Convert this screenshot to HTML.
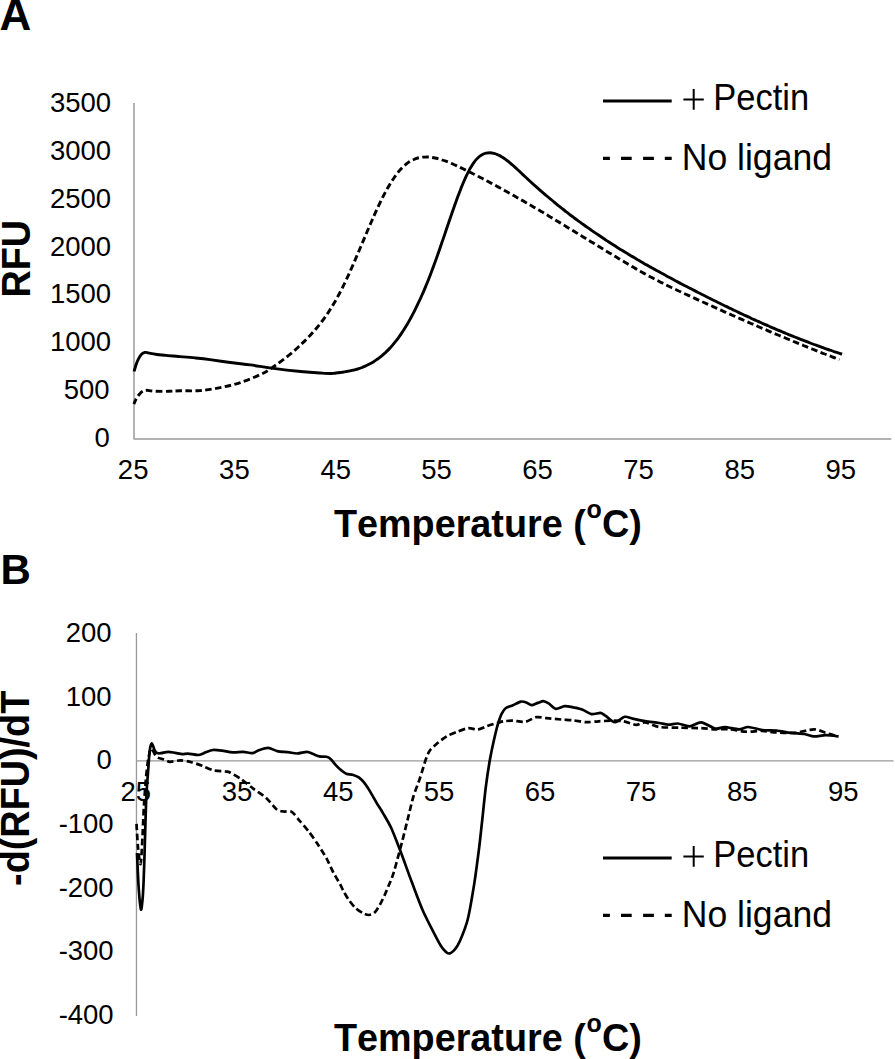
<!DOCTYPE html><html><head><meta charset="utf-8"><style>html,body{margin:0;padding:0;background:#fff;}svg{display:block;}text{font-family:"Liberation Sans",sans-serif;fill:#000;font-kerning:none;font-feature-settings:"kern" 0;}</style></head><body>
<svg width="895" height="1059" viewBox="0 0 895 1059">
<rect width="895" height="1059" fill="#fff"/>
<text x="-0.60" y="29.80" font-size="44.00" font-weight="bold">A</text>
<text transform="translate(0.39,583.50) scale(1.0000,1.0310)" font-size="42.00" font-weight="bold">B</text>
<path d="M134.00,103.00 V438.90 H891.30" fill="none" stroke="#999999" stroke-width="1.50" stroke-linejoin="round"/>
<path d="M136.45,632.90 V1015.90 M136.45,760.95 H893.50" fill="none" stroke="#999999" stroke-width="1.30" stroke-linejoin="round"/>
<text transform="translate(49.90,112.16) scale(1.0000,1.0200)" font-size="27.50">3500</text>
<text transform="translate(49.90,159.96) scale(1.0000,1.0200)" font-size="27.50">3000</text>
<text transform="translate(49.90,207.76) scale(1.0000,1.0200)" font-size="27.50">2500</text>
<text transform="translate(49.90,255.56) scale(1.0000,1.0200)" font-size="27.50">2000</text>
<text transform="translate(49.90,303.36) scale(1.0000,1.0200)" font-size="27.50">1500</text>
<text transform="translate(49.90,351.16) scale(1.0000,1.0200)" font-size="27.50">1000</text>
<text transform="translate(63.79,398.96) scale(1.0000,1.0200)" font-size="27.50">500</text>
<text transform="translate(94.38,446.76) scale(1.0000,1.0200)" font-size="27.50">0</text>
<text transform="translate(117.85,479.06) scale(1.0000,1.0200)" font-size="27.50">25</text>
<text transform="translate(219.10,479.06) scale(1.0000,1.0200)" font-size="27.50">35</text>
<text transform="translate(320.39,478.91) scale(1.0000,1.0200)" font-size="27.50">45</text>
<text transform="translate(421.23,478.91) scale(1.0000,1.0200)" font-size="27.50">55</text>
<text transform="translate(522.16,479.06) scale(1.0000,1.0200)" font-size="27.50">65</text>
<text transform="translate(623.24,478.91) scale(1.0000,1.0200)" font-size="27.50">75</text>
<text transform="translate(724.43,479.06) scale(1.0000,1.0200)" font-size="27.50">85</text>
<text transform="translate(825.46,479.06) scale(1.0000,1.0200)" font-size="27.50">95</text>
<text transform="translate(65.79,642.06) scale(1.0000,1.0200)" font-size="27.50">200</text>
<text transform="translate(65.79,705.71) scale(1.0000,1.0200)" font-size="27.50">100</text>
<text transform="translate(96.38,769.36) scale(1.0000,1.0200)" font-size="27.50">0</text>
<text transform="translate(58.63,833.01) scale(1.0000,1.0200)" font-size="27.50">-100</text>
<text transform="translate(58.63,896.66) scale(1.0000,1.0200)" font-size="27.50">-200</text>
<text transform="translate(58.63,960.31) scale(1.0000,1.0200)" font-size="27.50">-300</text>
<text transform="translate(58.63,1023.96) scale(1.0000,1.0200)" font-size="27.50">-400</text>
<text transform="translate(120.49,800.96) scale(1.0000,1.0200)" font-size="27.50">25</text>
<text transform="translate(221.71,800.96) scale(1.0000,1.0200)" font-size="27.50">35</text>
<text transform="translate(322.97,800.81) scale(1.0000,1.0200)" font-size="27.50">45</text>
<text transform="translate(423.78,800.81) scale(1.0000,1.0200)" font-size="27.50">55</text>
<text transform="translate(524.68,800.96) scale(1.0000,1.0200)" font-size="27.50">65</text>
<text transform="translate(625.73,800.81) scale(1.0000,1.0200)" font-size="27.50">75</text>
<text transform="translate(726.89,800.96) scale(1.0000,1.0200)" font-size="27.50">85</text>
<text transform="translate(827.89,800.96) scale(1.0000,1.0200)" font-size="27.50">95</text>
<text transform="translate(333.88,536.80) scale(1.0000,1.0450)" font-size="37.80" font-weight="bold">Temperature (</text>
<text x="586.42" y="517.65" font-size="25.00" font-weight="bold">o</text>
<text transform="translate(602.05,536.80) scale(1.0000,1.0450)" font-size="37.80" font-weight="bold">C)</text>
<text transform="translate(333.88,1051.20) scale(1.0000,1.0450)" font-size="37.80" font-weight="bold">Temperature (</text>
<text x="586.42" y="1032.05" font-size="25.00" font-weight="bold">o</text>
<text transform="translate(602.05,1051.20) scale(1.0000,1.0450)" font-size="37.80" font-weight="bold">C)</text>
<text transform="translate(29.50,297.53) rotate(-90) scale(1,1.0550)" font-size="37.80" font-weight="bold">RFU</text>
<text transform="translate(29.40,885.88) rotate(-90) scale(1,1.0550)" font-size="37.80" font-weight="bold">-d(RFU)/dT</text>
<g fill="none" stroke="#000" stroke-linejoin="round" stroke-linecap="butt">
<path d="M134.1,371.5 C134.3,370.6 135.0,368.0 135.6,366.2 C136.2,364.4 136.8,362.4 137.7,360.5 C138.6,358.6 139.7,356.2 140.9,354.9 C142.1,353.5 143.4,352.7 144.8,352.4 C146.2,352.1 147.1,352.8 149.1,353.1 C151.1,353.5 154.1,354.1 156.9,354.5 C159.7,354.9 162.2,355.0 166.1,355.4 C169.9,355.8 175.2,356.2 180.0,356.6 C184.8,357.0 190.0,357.4 195.0,357.9 C200.0,358.4 204.1,358.8 210.0,359.6 C215.9,360.4 223.6,361.6 230.3,362.5 C237.0,363.4 243.5,364.0 250.4,364.9 C257.3,365.8 263.1,367.0 271.5,368.1 C279.9,369.2 292.6,370.7 300.7,371.5 C308.8,372.3 315.1,372.7 320.0,373.0 C324.9,373.3 327.7,373.5 330.0,373.5 C332.3,373.6 332.7,373.3 334.0,373.2 C335.3,373.0 336.7,372.9 338.0,372.7 C339.3,372.6 340.7,372.4 342.0,372.3 C343.3,372.1 344.7,371.9 346.0,371.6 C347.3,371.4 348.7,371.2 350.0,370.9 C351.3,370.6 352.7,370.3 354.0,370.0 C355.3,369.6 356.7,369.3 358.0,368.8 C359.3,368.4 360.7,368.0 362.0,367.5 C363.3,366.9 364.7,366.4 366.0,365.8 C367.3,365.2 368.7,364.5 370.0,363.8 C371.3,363.1 372.7,362.3 374.0,361.5 C375.3,360.6 376.7,359.7 378.0,358.8 C379.3,357.8 380.7,356.8 382.0,355.7 C383.3,354.5 384.7,353.3 386.0,352.1 C387.3,350.8 388.7,349.5 390.0,348.0 C391.3,346.6 392.7,345.1 394.0,343.4 C395.3,341.8 396.7,340.1 398.0,338.3 C399.3,336.5 400.7,334.6 402.0,332.6 C403.3,330.6 404.7,328.5 406.0,326.3 C407.3,324.1 408.7,321.8 410.0,319.4 C411.3,317.0 412.7,314.5 414.0,311.9 C415.3,309.2 416.7,306.5 418.0,303.7 C419.4,300.9 420.7,298.0 422.0,295.0 C423.4,292.0 424.7,288.8 426.0,285.6 C427.4,282.4 428.7,279.1 430.0,275.7 C431.4,272.2 432.7,268.7 434.0,265.1 C435.4,261.4 436.7,257.7 438.0,253.9 C439.4,250.1 440.7,246.2 442.0,242.3 C443.4,238.4 444.7,234.4 446.0,230.5 C447.4,226.6 448.7,222.6 450.0,218.7 C451.4,214.8 452.7,211.0 454.0,207.2 C455.4,203.4 456.7,199.7 458.0,196.1 C459.4,192.6 460.7,189.1 462.0,185.8 C463.4,182.6 464.7,179.4 466.0,176.6 C467.4,173.7 468.7,171.0 470.0,168.6 C471.4,166.3 472.7,164.1 474.0,162.3 C475.4,160.5 476.7,159.0 478.0,157.8 C479.4,156.5 480.7,155.6 482.0,154.8 C483.4,154.0 484.7,153.5 486.0,153.2 C487.4,152.9 488.7,152.8 490.0,152.8 C491.4,152.8 492.7,153.1 494.0,153.4 C495.4,153.8 496.7,154.3 498.0,154.9 C499.4,155.4 500.7,156.2 502.0,157.0 C503.4,157.8 504.7,158.7 506.0,159.7 C507.4,160.7 508.7,161.7 510.0,162.8 C511.4,163.9 512.7,165.1 514.0,166.3 C515.4,167.5 516.7,168.8 518.0,170.0 C519.4,171.2 520.7,172.5 522.0,173.8 C523.4,175.0 524.7,176.3 526.0,177.5 C527.4,178.8 528.7,180.0 530.0,181.2 C531.4,182.5 532.7,183.7 534.0,184.9 C535.4,186.1 536.7,187.2 538.0,188.4 C539.4,189.6 540.7,190.8 542.0,191.9 C543.4,193.1 544.7,194.2 546.0,195.4 C547.4,196.5 548.7,197.6 550.0,198.7 C551.4,199.8 552.7,200.9 554.0,202.0 C555.4,203.1 556.7,204.2 558.0,205.3 C559.4,206.4 560.7,207.4 562.0,208.5 C563.4,209.5 564.7,210.6 566.0,211.6 C567.4,212.6 568.7,213.7 570.0,214.7 C571.4,215.7 572.7,216.7 574.0,217.7 C575.4,218.7 576.7,219.7 578.0,220.7 C579.4,221.7 580.7,222.6 582.0,223.6 C583.4,224.6 584.7,225.5 586.0,226.5 C587.4,227.4 588.7,228.4 590.1,229.3 C591.4,230.2 592.7,231.2 594.1,232.1 C595.4,233.0 596.7,233.9 598.1,234.8 C599.4,235.7 600.7,236.6 602.1,237.5 C603.4,238.4 604.7,239.3 606.1,240.2 C607.4,241.0 608.7,241.9 610.1,242.8 C611.4,243.6 612.7,244.5 614.1,245.3 C615.4,246.2 616.7,247.0 618.1,247.9 C619.4,248.7 620.7,249.5 622.1,250.3 C623.4,251.2 624.7,252.0 626.1,252.8 C627.4,253.6 628.7,254.4 630.1,255.2 C631.4,256.0 632.7,256.8 634.1,257.6 C635.4,258.4 636.7,259.2 638.1,260.0 C639.4,260.7 640.7,261.5 642.1,262.3 C643.4,263.1 644.7,263.8 646.1,264.6 C647.4,265.3 648.7,266.1 650.1,266.9 C651.4,267.6 652.7,268.4 654.1,269.1 C655.4,269.8 656.7,270.6 658.1,271.3 C659.4,272.1 660.7,272.8 662.1,273.5 C663.4,274.2 664.7,275.0 666.1,275.7 C667.4,276.4 668.7,277.1 670.1,277.8 C671.4,278.6 672.7,279.3 674.1,280.0 C675.4,280.7 676.7,281.4 678.1,282.1 C679.4,282.8 680.7,283.5 682.1,284.2 C683.4,284.9 684.7,285.6 686.1,286.3 C687.4,287.0 688.7,287.7 690.1,288.3 C691.4,289.0 692.7,289.7 694.1,290.4 C695.4,291.1 696.7,291.8 698.1,292.5 C699.4,293.1 700.7,293.8 702.1,294.5 C703.4,295.2 704.7,295.8 706.1,296.5 C707.4,297.2 708.7,297.9 710.1,298.5 C711.4,299.2 712.7,299.9 714.1,300.5 C715.4,301.2 716.7,301.8 718.1,302.5 C719.4,303.1 720.7,303.8 722.1,304.5 C723.4,305.1 724.7,305.8 726.1,306.4 C727.4,307.0 728.7,307.7 730.1,308.3 C731.4,309.0 732.7,309.6 734.1,310.3 C735.4,310.9 736.7,311.5 738.1,312.1 C739.4,312.8 740.7,313.4 742.1,314.0 C743.4,314.7 744.7,315.3 746.1,315.9 C747.4,316.5 748.7,317.1 750.1,317.7 C751.4,318.4 752.7,319.0 754.1,319.6 C755.4,320.2 756.8,320.8 758.1,321.4 C759.4,322.0 760.8,322.6 762.1,323.2 C763.4,323.8 764.8,324.3 766.1,324.9 C767.4,325.5 768.8,326.1 770.1,326.7 C771.4,327.3 772.8,327.8 774.1,328.4 C775.4,329.0 776.8,329.6 778.1,330.1 C779.4,330.7 780.8,331.2 782.1,331.8 C783.4,332.4 784.8,332.9 786.1,333.5 C787.4,334.0 788.8,334.6 790.1,335.1 C791.4,335.7 792.8,336.2 794.1,336.7 C795.4,337.3 796.8,337.8 798.1,338.3 C799.4,338.8 800.8,339.4 802.1,339.9 C803.4,340.4 804.8,340.9 806.1,341.4 C807.4,341.9 808.8,342.5 810.1,343.0 C811.4,343.5 812.8,344.0 814.1,344.5 C815.4,345.0 816.8,345.4 818.1,345.9 C819.4,346.4 820.8,346.9 822.1,347.4 C823.4,347.9 824.8,348.3 826.1,348.8 C827.4,349.3 828.8,349.7 830.1,350.2 C831.4,350.6 832.8,351.1 834.1,351.6 C835.4,352.0 836.8,352.4 838.1,352.9 C839.4,353.3 841.4,354.0 842.1,354.2" stroke-width="2.90"/>
<path d="M133.9,404.1 C134.3,403.2 135.4,400.4 136.3,398.8 C137.2,397.2 138.1,395.8 139.2,394.5 C140.3,393.2 141.4,392.0 142.7,391.3 C144.0,390.6 145.2,390.3 147.0,390.3 C148.8,390.3 149.7,390.9 153.3,391.1 C157.0,391.3 164.5,391.4 168.9,391.3 C173.3,391.2 174.8,390.9 180.0,390.8 C185.2,390.7 193.4,391.1 200.1,390.6 C206.8,390.1 213.5,388.9 220.2,387.6 C226.9,386.3 233.6,384.8 240.3,382.6 C247.0,380.4 255.3,376.9 260.5,374.5 C265.7,372.1 266.6,371.5 271.5,368.1 C276.4,364.8 285.0,358.4 290.0,354.4 C295.0,350.4 298.7,346.6 301.3,344.2 C303.9,341.9 304.0,341.7 305.3,340.4 C306.7,339.1 308.0,337.7 309.3,336.3 C310.7,334.9 312.0,333.4 313.3,331.9 C314.7,330.4 316.0,328.9 317.4,327.2 C318.7,325.6 320.0,323.9 321.4,322.1 C322.7,320.4 324.1,318.6 325.4,316.7 C326.7,314.7 328.1,312.8 329.4,310.7 C330.8,308.6 332.1,306.5 333.4,304.2 C334.8,302.0 336.1,299.7 337.4,297.2 C338.8,294.8 340.1,292.3 341.5,289.6 C342.8,287.0 344.1,284.3 345.5,281.5 C346.8,278.6 348.2,275.7 349.5,272.8 C350.8,269.8 352.2,266.8 353.5,263.7 C354.9,260.6 356.2,257.5 357.5,254.4 C358.9,251.2 360.2,248.0 361.5,244.9 C362.9,241.7 364.2,238.5 365.6,235.4 C366.9,232.2 368.2,229.0 369.6,225.9 C370.9,222.8 372.3,219.7 373.6,216.7 C374.9,213.7 376.3,210.7 377.6,207.8 C379.0,205.0 380.3,202.1 381.6,199.4 C383.0,196.7 384.3,194.1 385.6,191.7 C387.0,189.2 388.3,186.8 389.7,184.6 C391.0,182.4 392.3,180.2 393.7,178.3 C395.0,176.3 396.4,174.5 397.7,172.8 C399.0,171.1 400.4,169.6 401.7,168.2 C403.0,166.8 404.4,165.6 405.7,164.5 C407.1,163.4 408.4,162.4 409.7,161.6 C411.1,160.7 412.4,160.1 413.8,159.5 C415.1,158.9 416.4,158.4 417.8,158.0 C419.1,157.7 420.5,157.4 421.8,157.2 C423.1,157.0 424.5,157.0 425.8,157.0 C427.1,156.9 428.5,157.0 429.8,157.1 C431.2,157.3 432.5,157.5 433.8,157.7 C435.2,157.9 436.5,158.3 437.9,158.6 C439.2,158.9 440.5,159.3 441.9,159.8 C443.2,160.2 444.6,160.7 445.9,161.2 C447.2,161.7 448.6,162.2 449.9,162.8 C451.2,163.3 452.6,163.9 453.9,164.5 C455.3,165.1 456.6,165.8 457.9,166.4 C459.3,167.0 460.6,167.7 462.0,168.3 C463.3,168.9 464.6,169.6 466.0,170.3 C467.3,170.9 468.7,171.6 470.0,172.2 C471.3,172.9 472.7,173.6 474.0,174.2 C475.3,174.9 476.7,175.6 478.0,176.3 C479.4,177.0 480.7,177.7 482.0,178.3 C483.4,179.0 484.7,179.7 486.1,180.4 C487.4,181.1 488.7,181.9 490.1,182.6 C491.4,183.3 492.7,184.0 494.1,184.7 C495.4,185.4 496.8,186.2 498.1,186.9 C499.4,187.6 500.8,188.3 502.1,189.1 C503.5,189.8 504.8,190.6 506.1,191.3 C507.5,192.0 508.8,192.8 510.2,193.5 C511.5,194.3 512.8,195.0 514.2,195.8 C515.5,196.6 516.8,197.3 518.2,198.1 C519.5,198.8 520.9,199.6 522.2,200.4 C523.5,201.1 524.9,201.9 526.2,202.7 C527.6,203.5 528.9,204.3 530.2,205.0 C531.6,205.8 532.9,206.6 534.3,207.4 C535.6,208.2 536.9,209.0 538.3,209.8 C539.6,210.5 540.9,211.3 542.3,212.1 C543.6,212.9 545.0,213.7 546.3,214.5 C547.6,215.3 549.0,216.1 550.3,216.9 C551.7,217.7 553.0,218.5 554.3,219.3 C555.7,220.2 557.0,221.0 558.4,221.8 C559.7,222.6 561.0,223.4 562.4,224.2 C563.7,225.0 565.0,225.8 566.4,226.7 C567.7,227.5 569.1,228.3 570.4,229.1 C571.7,229.9 573.1,230.7 574.4,231.5 C575.8,232.4 577.1,233.2 578.4,234.0 C579.8,234.8 581.1,235.6 582.4,236.5 C583.8,237.3 585.1,238.1 586.5,238.9 C587.8,239.7 589.1,240.6 590.5,241.4 C591.8,242.2 593.2,243.0 594.5,243.8 C595.8,244.7 597.2,245.5 598.5,246.3 C599.9,247.1 601.2,247.9 602.5,248.7 C603.9,249.6 605.2,250.4 606.5,251.2 C607.9,252.0 609.2,252.8 610.6,253.6 C611.9,254.4 613.2,255.3 614.6,256.1 C615.9,256.9 617.3,257.7 618.6,258.5 C619.9,259.3 621.3,260.1 622.6,260.9 C624.0,261.7 625.3,262.5 626.6,263.3 C628.0,264.1 629.3,264.9 630.6,265.6 C632.0,266.4 633.3,267.2 634.7,268.0 C636.0,268.8 637.3,269.5 638.7,270.3 C640.0,271.1 641.4,271.8 642.7,272.6 C644.0,273.3 645.4,274.1 646.7,274.8 C648.1,275.5 649.4,276.3 650.7,277.0 C652.1,277.7 653.4,278.4 654.7,279.1 C656.1,279.8 657.4,280.5 658.8,281.2 C660.1,281.9 661.4,282.6 662.8,283.2 C664.1,283.9 665.5,284.6 666.8,285.2 C668.1,285.9 669.5,286.5 670.8,287.2 C672.1,287.8 673.5,288.5 674.8,289.1 C676.2,289.7 677.5,290.4 678.8,291.0 C680.2,291.6 681.5,292.2 682.9,292.9 C684.2,293.5 685.5,294.1 686.9,294.7 C688.2,295.3 689.6,295.9 690.9,296.5 C692.2,297.2 693.6,297.8 694.9,298.4 C696.2,299.0 697.6,299.6 698.9,300.2 C700.3,300.8 701.6,301.4 702.9,302.0 C704.3,302.6 705.6,303.2 707.0,303.9 C708.3,304.5 709.6,305.1 711.0,305.7 C712.3,306.3 713.7,306.9 715.0,307.5 C716.3,308.1 717.7,308.7 719.0,309.3 C720.3,309.9 721.7,310.5 723.0,311.1 C724.4,311.7 725.7,312.3 727.0,312.9 C728.4,313.5 729.7,314.1 731.1,314.7 C732.4,315.3 733.7,315.9 735.1,316.4 C736.4,317.0 737.8,317.6 739.1,318.2 C740.4,318.8 741.8,319.4 743.1,320.0 C744.4,320.6 745.8,321.2 747.1,321.7 C748.5,322.3 749.8,322.9 751.1,323.5 C752.5,324.1 753.8,324.7 755.2,325.2 C756.5,325.8 757.8,326.4 759.2,327.0 C760.5,327.6 761.8,328.1 763.2,328.7 C764.5,329.3 765.9,329.8 767.2,330.4 C768.5,331.0 769.9,331.6 771.2,332.1 C772.6,332.7 773.9,333.3 775.2,333.8 C776.6,334.4 777.9,335.0 779.3,335.5 C780.6,336.1 781.9,336.7 783.3,337.2 C784.6,337.8 785.9,338.3 787.3,338.9 C788.6,339.4 790.0,340.0 791.3,340.5 C792.6,341.1 794.0,341.7 795.3,342.2 C796.7,342.8 798.0,343.3 799.3,343.8 C800.7,344.4 802.0,344.9 803.4,345.5 C804.7,346.0 806.0,346.6 807.4,347.1 C808.7,347.6 810.0,348.2 811.4,348.7 C812.7,349.3 814.1,349.8 815.4,350.3 C816.7,350.8 818.1,351.4 819.4,351.9 C820.8,352.4 822.1,353.0 823.4,353.5 C824.8,354.0 826.1,354.5 827.5,355.0 C828.8,355.6 830.1,356.1 831.5,356.6 C832.8,357.1 834.1,357.6 835.5,358.1 C836.8,358.7 838.8,359.4 839.5,359.7" stroke-width="2.90" stroke-dasharray="6.5 3.4" stroke-dashoffset="0.7"/>
<path d="M137.0,853.0 C137.2,857.3 138.0,877.5 138.5,885.0 C139.0,892.5 140.4,907.3 140.9,909.3 C141.4,911.3 142.1,904.0 142.5,900.0 C142.9,896.0 143.4,886.6 143.7,879.3 C144.0,872.0 144.5,856.0 144.8,845.3 C145.1,834.6 145.8,808.4 146.2,798.9 C146.6,789.4 147.4,780.3 147.9,774.0 C148.4,767.7 149.1,755.4 149.6,751.3 C150.1,747.2 151.1,743.5 151.8,743.4 C152.5,743.3 153.9,748.9 154.6,750.2 C155.3,751.5 156.1,752.6 157.0,753.0 C157.9,753.4 159.6,753.4 161.1,753.2 C162.6,753.0 166.3,751.8 168.2,751.8 C170.1,751.8 173.5,752.6 175.4,752.9 C177.3,753.2 180.8,754.0 182.5,754.1 C184.2,754.2 185.8,753.5 187.9,753.6 C190.0,753.7 196.2,755.2 198.6,755.0 C201.0,754.8 203.9,753.0 205.8,752.3 C207.7,751.6 210.8,750.2 212.9,750.0 C215.0,749.8 219.3,750.3 221.9,750.6 C224.5,750.9 229.7,752.1 232.6,752.3 C235.5,752.5 240.7,751.7 243.3,751.8 C245.9,751.9 250.2,753.4 252.3,753.2 C254.4,753.0 257.3,750.7 259.4,750.0 C261.5,749.3 265.9,747.8 268.3,747.9 C270.7,748.0 274.7,750.5 277.3,751.1 C279.9,751.7 285.4,751.9 288.0,752.2 C290.6,752.5 294.6,753.5 297.1,753.5 C299.6,753.5 304.9,751.8 307.0,751.9 C309.1,752.0 311.5,753.5 313.2,754.1 C314.9,754.7 317.7,756.0 319.5,756.4 C321.3,756.8 325.1,756.4 326.6,756.8 C328.1,757.2 329.9,758.4 331.1,759.5 C332.3,760.6 334.4,763.6 335.6,764.9 C336.8,766.2 338.6,768.1 340.0,769.3 C341.4,770.5 344.6,773.1 346.3,773.8 C348.0,774.5 350.9,774.2 352.6,774.7 C354.3,775.2 357.3,776.3 358.8,777.4 C360.3,778.5 362.8,781.0 364.2,782.7 C365.6,784.4 367.7,787.7 369.4,790.4 C371.1,793.1 374.8,799.9 376.6,802.9 C378.4,805.9 380.9,809.5 382.8,812.8 C384.7,816.1 388.5,822.2 390.9,827.3 C393.3,832.4 397.7,844.0 400.5,851.3 C403.3,858.6 408.7,873.9 411.7,881.8 C414.7,889.7 419.5,903.0 422.9,910.7 C426.3,918.4 434.8,934.6 437.4,939.6 C440.0,944.6 441.0,946.3 442.5,948.2 C444.0,950.1 447.0,953.3 448.6,953.5 C450.2,953.7 453.0,951.4 454.5,949.8 C456.0,948.2 458.0,945.3 459.8,941.2 C461.6,937.1 466.0,926.4 467.9,918.7 C469.8,911.0 472.8,892.8 474.3,883.4 C475.8,874.0 478.0,856.6 479.1,848.1 C480.2,839.6 481.4,827.4 482.3,819.3 C483.2,811.2 484.8,795.1 485.8,787.2 C486.8,779.3 488.7,766.6 489.8,760.3 C490.9,754.0 492.8,745.0 493.9,740.2 C495.0,735.4 496.8,727.7 497.9,724.1 C499.0,720.5 500.8,715.5 501.9,713.4 C503.0,711.3 504.4,709.1 505.9,708.0 C507.4,706.9 510.9,706.1 512.9,705.2 C514.9,704.3 519.1,702.0 520.9,701.6 C522.7,701.2 524.9,702.0 526.3,702.5 C527.7,703.0 530.1,705.1 531.6,705.2 C533.1,705.3 536.3,703.4 537.9,702.9 C539.5,702.4 541.9,701.0 543.3,701.1 C544.7,701.2 546.9,702.4 548.6,703.4 C550.3,704.4 553.7,708.4 555.8,708.8 C557.9,709.2 562.3,706.3 564.7,706.1 C567.1,705.9 571.3,707.0 573.7,707.5 C576.1,708.0 580.2,708.8 582.6,709.7 C585.0,710.6 589.1,713.7 591.5,714.1 C593.9,714.5 598.6,712.7 600.5,712.9 C602.4,713.1 603.9,714.7 605.8,715.9 C607.7,717.1 612.3,722.1 614.8,722.2 C617.3,722.3 622.2,717.3 624.6,716.8 C627.0,716.3 629.9,718.0 632.6,718.6 C635.3,719.2 641.5,720.5 645.0,721.1 C648.5,721.7 656.0,722.5 659.1,723.0 C662.2,723.5 666.0,724.5 668.5,724.6 C671.0,724.7 675.0,723.3 677.8,723.5 C680.6,723.7 686.5,726.5 689.6,726.3 C692.7,726.1 697.9,722.0 701.3,722.3 C704.7,722.6 712.3,728.0 715.4,728.6 C718.5,729.2 721.7,726.9 724.8,727.0 C727.9,727.1 735.8,729.3 738.9,729.3 C742.0,729.3 745.1,726.9 748.2,727.0 C751.3,727.1 758.5,729.5 762.3,730.0 C766.1,730.5 772.6,730.1 776.4,730.5 C780.2,730.9 786.8,732.3 790.5,732.8 C794.2,733.3 801.4,733.5 804.5,734.0 C807.6,734.5 811.1,736.2 813.9,736.4 C816.7,736.6 822.4,735.2 825.7,735.2 C829.0,735.2 836.9,736.2 838.6,736.4" stroke-width="2.70"/>
<path d="M136.5,823.8 C136.7,827.0 137.5,842.2 138.0,847.6 C138.5,853.0 139.8,863.0 140.3,864.0 C140.8,865.0 141.2,859.5 141.5,855.0 C141.8,850.5 142.5,836.7 142.8,830.0 C143.1,823.3 143.6,811.7 144.0,805.0 C144.4,798.3 145.3,785.7 145.8,780.0 C146.3,774.3 147.2,765.9 147.8,762.0 C148.4,758.1 149.5,752.8 150.0,751.0 C150.5,749.2 151.1,748.1 151.8,748.6 C152.5,749.1 154.1,753.4 154.9,754.6 C155.7,755.8 156.7,756.9 157.9,757.6 C159.1,758.3 162.4,758.9 164.0,759.5 C165.6,760.1 167.8,761.7 170.0,761.8 C172.2,761.9 177.9,760.3 180.8,760.4 C183.7,760.5 188.6,761.5 191.5,762.2 C194.4,762.9 199.3,764.7 202.2,765.8 C205.1,766.9 209.8,769.4 212.9,770.2 C216.0,771.0 223.1,771.2 225.4,771.5 C227.7,771.8 228.0,771.5 230.0,772.5 C232.0,773.5 237.6,776.7 240.7,778.8 C243.8,780.9 249.9,786.1 253.2,788.6 C256.5,791.1 262.7,794.8 265.8,797.5 C268.9,800.2 274.1,807.3 276.5,809.2 C278.9,811.1 281.6,811.2 283.6,811.5 C285.6,811.8 289.6,810.6 291.7,811.8 C293.8,813.0 297.4,818.2 299.7,820.8 C302.0,823.4 306.3,828.4 308.7,831.5 C311.1,834.6 315.2,840.4 317.6,844.0 C320.0,847.6 324.4,854.6 326.5,858.3 C328.6,862.0 331.3,868.6 333.1,872.0 C334.9,875.4 338.3,881.0 339.8,883.7 C341.3,886.4 342.8,890.1 344.1,892.3 C345.4,894.5 347.6,898.4 349.2,900.5 C350.8,902.6 353.9,906.6 355.8,908.3 C357.7,910.0 361.8,912.5 363.6,913.4 C365.4,914.3 367.6,915.1 369.1,915.0 C370.6,914.9 373.1,914.0 374.6,912.6 C376.1,911.2 378.8,906.7 380.1,904.4 C381.4,902.1 383.6,897.4 384.7,895.0 C385.8,892.6 387.4,888.6 388.3,886.4 C389.2,884.2 390.9,880.8 391.8,878.2 C392.7,875.6 393.9,871.9 395.3,867.0 C396.7,862.1 400.3,848.5 402.1,841.7 C403.9,834.9 407.0,822.0 408.5,816.0 C410.0,810.0 411.9,801.6 413.4,796.5 C414.9,791.4 418.5,782.6 420.1,777.8 C421.7,773.0 424.2,763.9 425.5,760.3 C426.8,756.7 428.1,753.1 429.5,751.0 C430.9,748.9 433.9,746.2 436.2,744.2 C438.5,742.2 444.0,737.9 446.9,736.2 C449.8,734.5 454.8,732.6 457.7,731.5 C460.6,730.4 465.7,728.5 468.4,728.2 C471.1,727.9 475.3,729.8 477.8,729.5 C480.3,729.2 484.5,727.0 487.2,726.1 C489.9,725.2 495.7,723.4 497.9,722.8 C500.1,722.2 501.9,721.6 503.9,721.3 C505.9,721.0 510.0,720.6 512.9,720.7 C515.8,720.8 522.3,722.3 525.4,721.8 C528.5,721.3 533.2,717.7 536.1,717.2 C539.0,716.7 543.5,717.9 546.8,718.2 C550.1,718.5 557.5,719.2 561.1,719.5 C564.7,719.8 570.4,720.0 573.7,720.4 C577.0,720.8 582.9,722.1 586.2,722.2 C589.5,722.3 595.4,721.5 598.7,721.3 C602.0,721.1 607.9,720.7 611.2,720.7 C614.5,720.7 620.4,720.7 623.7,721.3 C627.0,721.9 633.4,724.8 636.2,724.9 C639.0,725.0 641.9,722.0 645.0,722.3 C648.1,722.6 654.4,726.3 659.1,727.0 C663.8,727.7 674.6,727.5 680.2,727.7 C685.8,727.9 696.6,728.0 701.3,728.2 C706.0,728.4 711.6,729.2 715.4,729.3 C719.2,729.4 725.4,729.0 729.5,729.3 C733.6,729.6 741.5,731.5 745.9,731.7 C750.3,731.9 758.2,730.9 762.3,731.0 C766.4,731.1 772.0,732.2 776.4,732.4 C780.8,732.6 790.2,733.2 795.2,732.8 C800.2,732.4 809.8,729.3 813.9,729.3 C818.0,729.3 822.6,731.9 825.7,732.8 C828.8,733.7 835.8,735.9 837.4,736.4" stroke-width="2.70" stroke-dasharray="6.5 3.4"/>
</g>
<path d="M603.0,101.0 H671.7" stroke="#000" stroke-width="3.20"/><path d="M603.0,158.3 H671.7" stroke="#000" stroke-width="3.20" stroke-dasharray="6.9,11.1,10.7,11.4,10.8,10.9,7,100"/><path d="M683.40,99.40 H703.80 M693.70,89.05 V109.80" stroke="#000" stroke-width="2.00"/><text transform="translate(713.37,109.80) scale(0.9250,1.0000)" font-size="37.30">Pectin</text><text transform="translate(681.78,170.30) scale(0.9530,1.0000)" font-size="37.30">No ligand</text>
<path d="M603.0,858.0 H671.7" stroke="#000" stroke-width="3.20"/><path d="M603.0,915.3 H671.7" stroke="#000" stroke-width="3.20" stroke-dasharray="6.9,11.1,10.7,11.4,10.8,10.9,7,100"/><path d="M683.40,856.40 H703.80 M693.70,846.05 V866.80" stroke="#000" stroke-width="2.00"/><text transform="translate(713.37,866.80) scale(0.9250,1.0000)" font-size="37.30">Pectin</text><text transform="translate(681.78,927.30) scale(0.9530,1.0000)" font-size="37.30">No ligand</text>
</svg></body></html>
